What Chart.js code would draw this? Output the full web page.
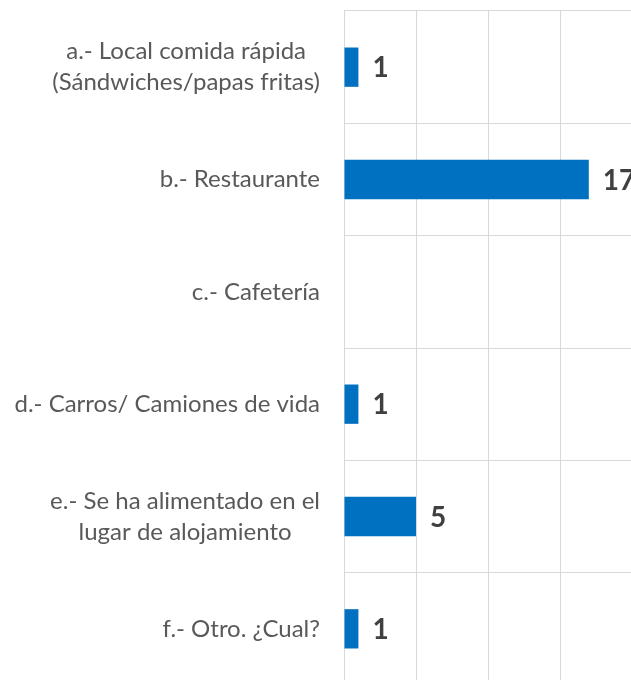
<!DOCTYPE html>
<html>
<head>
<meta charset="utf-8">
<script src="https://cdn.jsdelivr.net/npm/chart.js@4"></script>
<style>
  html, body { margin: 0; padding: 0; overflow: hidden; background: #fff; }
  #wrap { width: 700px; height: 700px; }
</style>
</head>
<body>
<div id="wrap"><canvas id="myChart" width="700" height="700"></canvas></div>
<script>
// categories and counts
let categories = [
  ['a.- Local comida rápida', '(Sándwiches/papas fritas)'],
  'b.- Restaurante',
  'c.- Cafetería',
  'd.- Carros/ Camiones de vida',
  ['e.- Se ha alimentado en el', 'lugar de alojamiento'],
  'f.- Otro. ¿Cual?'
]
let counts = [1, 17, 0, 1, 5, 1]
let xTicks = [0, 5, 10, 15, 20]

// draws the number next to each bar
let valueLabels = {
  id: 'valueLabels',
  afterDatasetsDraw(chart) {
    let ctx = chart.ctx
    let meta = chart.getDatasetMeta(0)
    ctx.save()
    ctx.font = 'bold 28px Lato'
    ctx.fillStyle = '#404040'
    ctx.textAlign = 'left'
    ctx.textBaseline = 'middle'
    meta.data.forEach((bar, i) => {
      if (!counts[i]) return
      ctx.fillText(String(counts[i]), bar.x + 14, bar.y + 1)
    })
    ctx.restore()
  }
}

// category labels: block sits right of the axis gap, lines centred inside the block (like excel)
let categoryLabels = {
  id: 'categoryLabels',
  afterDraw(chart) {
    let ctx = chart.ctx
    let y = chart.scales.y
    let right = y.right - 24
    let lh = 31
    ctx.save()
    ctx.font = '24px Lato'
    ctx.fillStyle = '#595959'
    ctx.textAlign = 'center'
    ctx.textBaseline = 'middle'
    categories.forEach((lab, i) => {
      let lines = Array.isArray(lab) ? lab : [lab]
      let w = Math.max(...lines.map(l => ctx.measureText(l).width))
      let cy = y.getPixelForTick(i)
      let y0 = cy - (lines.length - 1) * lh / 2
      lines.forEach((l, k) => ctx.fillText(l, right - w / 2, y0 + k * lh))
    })
    ctx.restore()
  }
}

var ctx = document.getElementById('myChart').getContext('2d');
var chart = new Chart(ctx, {
  type: 'bar',
  data: {
    labels: categories,
    datasets: [{
      label: 'Respuestas',
      backgroundColor: '#0070C0',
      data: counts,
      barPercentage: 0.7,
      categoryPercentage: 0.5
    }]
  },
  options: {
    indexAxis: 'y',
    responsive: false,
    animation: false,
    layout: { padding: { top: 11, right: 68, bottom: 15, left: 0 } },
    plugins: { legend: { display: false }, tooltip: { enabled: false } },
    scales: {
      x: {
        min: xTicks[0],
        max: xTicks[xTicks.length - 1],
        afterBuildTicks: (axis) => { axis.ticks = xTicks.map(v => ({ value: v })) },
        ticks: { display: false },
        grid: { color: '#d9d9d9', lineWidth: 1, drawTicks: false },
        border: { display: false }
      },
      y: {
        afterFit: (axis) => {
          axis.width = 344
          axis.paddingTop = 0
          axis.paddingBottom = 0
        },
        ticks: { display: false },
        grid: { color: '#d9d9d9', lineWidth: 1, drawTicks: false, offset: true },
        border: { display: false }
      }
    }
  },
  plugins: [valueLabels, categoryLabels]
});
</script>
</body>
</html>
